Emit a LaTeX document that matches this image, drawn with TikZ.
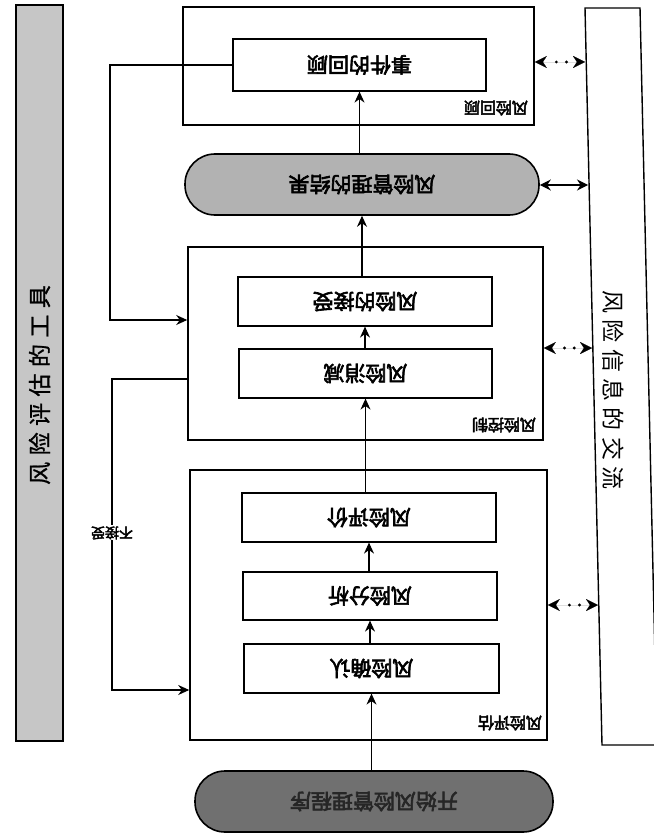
\documentclass[tikz,border=0pt]{standalone}
\usepackage{fontspec}
\usepackage{graphicx}
\usetikzlibrary{arrows.meta,calc}
\newfontfamily\cjk{Noto Sans CJK SC}
\newfontfamily\cjkb[FakeBold=3]{Noto Sans CJK SC}
\newfontfamily\cjks[LetterSpace=28]{Noto Sans CJK SC}
\newfontfamily\cjksb[LetterSpace=28,FakeBold=1]{Noto Sans CJK SC}
\newcommand\ud[1]{\rotatebox[origin=c]{180}{#1}}
\definecolor{barfill}{HTML}{C6C6C6}
\definecolor{resfill}{HTML}{B2B2B2}
\definecolor{startfill}{HTML}{707070}
\definecolor{starttext}{HTML}{262626}
\begin{document}
\begin{tikzpicture}[x=1pt,y=-1pt,
  outer/.style={draw, line width=1.6pt, rectangle, inner sep=0pt},
  inner/.style={draw, line width=1.2pt, fill=white, inner sep=0pt, font=\cjkb\fontsize{21}{21}\selectfont},
  pill/.style={draw, line width=1.6pt, rounded corners=30pt, inner sep=0pt, font=\cjkb\fontsize{21}{21}\selectfont},
  lab/.style={inner sep=0pt, font=\cjkb\fontsize{16}{16}\selectfont},
  nolab/.style={inner sep=1pt, fill=white, font=\cjkb\fontsize{14}{14}\selectfont},
  bartext/.style={inner sep=0pt, font=\cjks\fontsize{23}{23}\selectfont},
  bartextb/.style={inner sep=0pt, font=\cjksb\fontsize{23}{23}\selectfont},
  arr/.style={line width=1.1pt, -{Stealth[length=11pt,width=10pt]}},
  darr/.style={line width=1.3pt, {Stealth[length=11pt,width=11pt]}-{Stealth[length=11pt,width=11pt]}},
  dotarr/.style={line width=0.01pt, {Stealth[length=12pt,width=12pt]}-{Stealth[length=12pt,width=12pt]}},
  dot/.style={circle, fill=black, inner sep=0pt, minimum size=3.2pt},
]
\useasboundingbox (0,0) rectangle (653,837);
\fill[white] (0,0) rectangle (653,837);

% side bars
\node[draw, line width=1.6pt, fill=barfill, minimum width=47pt, minimum height=736pt, inner sep=0pt] (toolbar) at (39.5,373) {};
\node[bartextb] (tooltext) at (39.5,385) {\rotatebox{90}{风险评估的工具}};
\draw[line width=1.4pt] (585,8) -- (640,8) -- (657,745) -- (602,745) -- cycle;
\node[bartext] (commtext) at (613,390) {\rotatebox{-90}{风险信息的交流}};
\coordinate (b1) at (585,62);
\coordinate (b2) at (588,185);
\coordinate (b3) at (592,348);
\coordinate (b4) at (598,605);

% review
\node[outer, minimum width=351pt, minimum height=118pt] (review) at (358.5,66) {};
\node[inner, minimum width=253pt, minimum height=52pt] (recall) at (359.5,65) {\ud{事件的回顾}};
\node[lab] (labreview) at (496,108) {\ud{风险回顾}};

% result
\node[pill, fill=resfill, minimum width=354pt, minimum height=61pt] (result) at (362,184.5) {\ud{风险管理的结果}};

% control
\node[outer, minimum width=355pt, minimum height=193pt] (control) at (365.5,343.5) {};
\node[inner, minimum width=254pt, minimum height=49pt] (accept) at (365,301.5) {\ud{风险的接受}};
\node[inner, minimum width=253pt, minimum height=49pt] (reduce) at (365.5,373.5) {\ud{风险消减}};
\node[lab] (labcontrol) at (504,425) {\ud{风险控制}};

% assessment
\node[outer, minimum width=357pt, minimum height=270pt] (assess) at (368.5,605) {};
\node[inner, minimum width=254pt, minimum height=49pt] (eval) at (369,517.5) {\ud{风险评价}};
\node[inner, minimum width=254pt, minimum height=48pt] (anal) at (370,596) {\ud{风险分析}};
\node[inner, minimum width=255pt, minimum height=49pt] (ident) at (371.5,668.5) {\ud{风险确认}};
\node[lab] (labassess) at (510,723) {\ud{风险评估}};

% start
\node[pill, fill=startfill, text=starttext, minimum width=358pt, minimum height=61pt] (start) at (374,801.5) {\ud{开始风险管理程序}};

% main chain
\draw[arr] (start.north -| ident.south) -- (ident.south);
\draw[arr] (ident.north -| anal.south) -- (anal.south);
\draw[arr] (anal.north -| eval.south) -- (eval.south);
\draw[arr] (eval.north -| reduce.south) -- (reduce.south);
\draw[arr] (reduce.north -| accept.south) -- (accept.south);
\draw[arr] (accept.north -| result.south) -- (result.south);
\draw[arr] (result.north -| recall.south) -- (recall.south);

% feedback lines
\coordinate (k1) at (110,320);
\draw[arr] (recall.west) -| (k1) -- (control.west |- k1);
\coordinate (k2) at (112,379);
\coordinate (k3) at (112,690);
\draw[arr] (control.west |- k2) -- (k2) -- node[nolab, pos=0.495] (nolabel) {\ud{不接受}} (k3) -- (assess.west |- k3);

% communication arrows
\draw[dotarr] (review.east |- b1) -- (b1) node[dot, pos=0.43] {} node[dot, pos=0.63] {};
\draw[darr] (result.east |- b2) -- (b2);
\draw[dotarr] (control.east |- b3) -- (b3) node[dot, pos=0.43] {} node[dot, pos=0.63] {};
\draw[dotarr] (assess.east |- b4) -- (b4) node[dot, pos=0.43] {} node[dot, pos=0.63] {};
\end{tikzpicture}
\end{document}
